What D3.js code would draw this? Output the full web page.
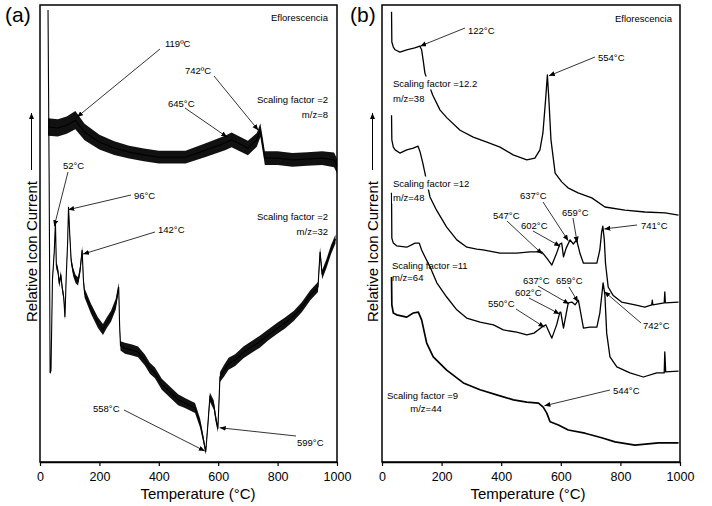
<!DOCTYPE html>
<html>
<head>
<meta charset="utf-8">
<script src="https://cdn.jsdelivr.net/npm/d3@7.9.0/dist/d3.min.js"></script>
<style>
  body { margin: 0; background: #fff; }
  svg text { font-family: "Liberation Sans", Arial, sans-serif; fill: #000; }
</style>
</head>
<body>
<svg id="chart" width="712" height="506"></svg>
<script>
// ---- data (temperature in °C, relative ion current in arbitrary units 0-100) ----
const tickTemps = [0, 200, 400, 600, 800, 1000];

// panel (a), m/z = 8 (noisy, band = noise half width)
const tempA8  = [27, 60, 90, 119, 150, 200, 250, 300, 350, 400, 490, 560, 623, 645, 700, 730, 742, 750, 757, 800, 850, 900, 950, 990, 1000];
const ionA8   = [73.3, 73.1, 73.7, 74.8, 72.2, 70.0, 68.7, 67.8, 67.2, 66.7, 66.7, 68.3, 69.8, 70.5, 68.7, 70.5, 72.6, 69.4, 66.5, 66.5, 66.1, 66.3, 66.5, 66.1, 64.8];
const noiseA8 = [1.9, 1.9, 1.9, 2.0, 1.8, 1.6, 1.5, 1.4, 1.4, 1.4, 1.4, 1.5, 1.6, 1.6, 1.6, 1.5, 1.5, 1.5, 1.5, 1.5, 1.5, 1.5, 1.5, 1.6, 1.6];

// panel (a), m/z = 32
const tempA32 = [27, 31, 34, 37, 42, 48, 52, 55, 60, 65, 70, 75, 80, 84, 88, 93, 96, 100, 105, 112, 120, 128, 135, 142, 146, 150,
                 172, 195, 212, 225, 239, 255, 265, 268, 271, 286, 310, 330, 353, 370, 387, 410, 441, 465, 488, 522, 539, 550, 558,
                 565, 572, 585, 592, 599, 606, 620, 635, 657, 685, 713, 740, 768, 800, 825, 855, 882, 910, 936, 943, 950, 965, 980, 995];
const ionA32  = [98.9, 60, 19.5, 20.0, 40.0, 46.0, 52.5, 43.0, 42.0, 39.0, 41.0, 38.0, 36.0, 31.7, 40.0, 48.0, 55.8, 50.0, 44.0, 41.5, 40.0, 39.5, 42.0, 46.4, 40.0, 37.0,
                 33.5, 30.5, 29.0, 30.5, 31.9, 34.5, 38.3, 30.0, 25.4, 24.9, 24.5, 24.1, 22.3, 20.5, 19.5, 17.0, 15.1, 13.6, 12.9, 11.8, 8.5, 5.0, 2.2,
                 8.0, 14.2, 12.5, 9.5, 7.3, 18.6, 20.0, 21.5, 22.3, 24.0, 25.2, 26.3, 27.8, 29.3, 30.4, 32.0, 33.9, 36.5, 38.3, 46.0, 41.0, 43.5, 46.5, 48.8];
const noiseA32 = [0.3, 0.3, 0.3, 0.4, 0.5, 0.5, 0.5, 0.8, 0.8, 0.8, 0.8, 0.8, 0.8, 0.6, 0.6, 0.6, 0.6, 0.8, 0.8, 0.9, 0.9, 0.9, 0.9, 0.8, 0.9, 1.0,
                  1.1, 1.2, 1.2, 1.2, 1.2, 1.2, 1.0, 0.8, 1.0, 1.2, 1.2, 1.2, 1.2, 1.2, 1.2, 1.2, 1.2, 1.2, 1.1, 1.1, 1.0, 0.8, 0.6,
                  0.8, 1.0, 1.0, 0.9, 0.8, 1.1, 1.3, 1.3, 1.3, 1.3, 1.3, 1.3, 1.2, 1.2, 1.2, 1.1, 1.1, 1.1, 1.1, 1.0, 1.0, 1.0, 1.0, 1.0];

// panel (b), m/z = 38
const tempB38 = [32, 33, 38, 44, 60, 83, 110, 127, 133, 138, 144, 170, 195, 218, 262, 306, 352, 396, 440, 486, 513, 530, 540, 549, 555, 560,
                 567, 581, 603, 624, 658, 704, 748, 815, 882, 950, 995];
const ionB38  = [98.5, 91.9, 90.8, 90.2, 89.7, 90.2, 90.6, 91.0, 90.2, 88.0, 85.1, 80.3, 77.0, 75.3, 72.6, 71.1, 70.0, 68.9, 67.2, 66.1, 66.5, 68.3, 72.0, 79.3, 84.7, 79.3,
                 70.5, 63.2, 61.3, 60.0, 58.9, 57.8, 55.8, 55.1, 54.7, 54.5, 54.0];

// panel (b), m/z = 48
const tempB48 = [32, 33, 38, 44, 60, 83, 105, 121, 128, 137, 161, 183, 217, 251, 285, 318, 339, 396, 452, 497, 536, 553, 570, 586, 597, 603,
                 609, 618, 631, 642, 653, 665, 676, 698, 721, 731, 737, 741, 746, 750, 759, 775, 804, 849, 882, 905, 907, 909, 947, 949, 951, 995];
const ionB48  = [75.9, 70.5, 68.9, 68.3, 67.6, 68.3, 68.7, 69.1, 67.8, 65.4, 58.0, 55.1, 51.4, 48.6, 47.0, 46.6, 46.4, 45.7, 45.7, 46.0, 46.0, 44.6, 43.1, 45.7, 47.7, 47.9,
                 44.9, 46.8, 48.6, 47.7, 48.6, 45.5, 43.5, 43.5, 43.5, 46.4, 50.3, 51.6, 48.6, 43.5, 38.3, 36.5, 35.0, 34.4, 33.9, 34.4, 35.4, 34.4, 34.8, 37.2, 34.8, 35.0];

// panel (b), m/z = 64
const tempB64 = [32, 33, 38, 49, 83, 111, 125, 133, 144, 161, 184, 217, 251, 284, 329, 374, 407, 452, 486, 510, 536, 550, 570, 586, 597, 600,
                 609, 625, 637, 648, 659, 676, 698, 721, 731, 742, 748, 754, 765, 788, 832, 877, 922, 947, 949, 952, 995];
const ionB64  = [58.9, 49.0, 47.9, 47.3, 47.0, 47.9, 47.9, 46.4, 44.9, 42.7, 39.2, 36.1, 33.3, 31.5, 30.6, 30.0, 28.9, 28.4, 27.8, 28.2, 29.5, 30.0, 27.1, 30.0, 32.8, 32.8,
                 29.3, 34.8, 35.0, 34.4, 35.4, 29.3, 29.5, 29.5, 32.6, 39.2, 36.5, 28.2, 23.0, 20.8, 19.5, 18.6, 19.5, 19.5, 24.1, 19.7, 19.9];

// panel (b), m/z = 44
const tempB44 = [32, 33, 38, 49, 83, 105, 122, 133, 150, 172, 217, 273, 329, 385, 441, 486, 525, 541, 553, 564, 592, 625, 681, 737, 782, 849, 928, 995];
const ionB44  = [40.5, 34.4, 32.6, 32.2, 31.7, 32.6, 32.8, 31.1, 26.0, 23.0, 20.1, 17.3, 15.8, 14.7, 13.6, 13.1, 12.9, 12.0, 10.7, 8.8, 8.1, 7.0, 6.3, 5.3, 4.4, 3.7, 4.2, 4.2];

// peak annotations: text, label anchor (px), line start (px), tip [°C, ion]
const notesA = [
  { t: '119ºC', lx: 165, ly: 46.5, sx: 160, sy: 49, tip: [125, 75.5] },
  { t: '742ºC', lx: 185, ly: 73.5, sx: 214, sy: 76, tip: [735, 72.6] },
  { t: '645°C', lx: 168, ly: 106.5, sx: 185, sy: 108, tip: [630, 71.1] },
  { t: '52°C', lx: 63, ly: 168.5, sx: 68, sy: 172, tip: [48, 51.6] },
  { t: '96°C', lx: 134, ly: 198.5, sx: 131, sy: 195, tip: [95, 55.2] },
  { t: '142°C', lx: 158, ly: 232.5, sx: 155, sy: 232, tip: [145, 45.5] },
  { t: '558°C', lx: 93, ly: 411.5, sx: 124, sy: 410, tip: [555, 2.4] },
  { t: '599°C', lx: 297, ly: 445.5, sx: 296, sy: 436, tip: [605, 7.5] }
];
const notesB = [
  { t: '122°C', lx: 468, ly: 33.5, sx: 465, sy: 28, tip: [128, 91.0] },
  { t: '554°C', lx: 598, ly: 60.5, sx: 595, sy: 57, tip: [560, 84.5] },
  { t: '637°C', lx: 520, ly: 198.5, sx: 543, sy: 202, tip: [625, 48.4] },
  { t: '659°C', lx: 562, ly: 215.5, sx: 573, sy: 218, tip: [655, 48.0] },
  { t: '547°C', lx: 493, ly: 218.5, sx: 507, sy: 221, tip: [538, 45.5] },
  { t: '602°C', lx: 521, ly: 228.5, sx: 533, sy: 231, tip: [598, 47.2] },
  { t: '741°C', lx: 641, ly: 228.5, sx: 637, sy: 225, tip: [746, 51.0] },
  { t: '637°C', lx: 523, ly: 283.5, sx: 538, sy: 286, tip: [628, 34.6] },
  { t: '659°C', lx: 556, ly: 283.5, sx: 569, sy: 287, tip: [658, 35.0] },
  { t: '602°C', lx: 515, ly: 295.5, sx: 529, sy: 298, tip: [596, 32.4] },
  { t: '550°C', lx: 488, ly: 306.5, sx: 516, sy: 309, tip: [545, 29.5] },
  { t: '742°C', lx: 643, ly: 328.5, sx: 641, sy: 323, tip: [746, 37.3] },
  { t: '544°C', lx: 613, ly: 393.5, sx: 610, sy: 390, tip: [545, 12.3] }
];

// ---- drawing ----
const svg = d3.select('#chart');
const y = d3.scaleLinear().domain([0, 100]).range([462, 5]);
const xA = d3.scaleLinear().domain([0, 1000]).range([40, 337]);
const xB = d3.scaleLinear().domain([0, 1000]).range([382, 680]);

svg.append('defs').append('marker')
    .attr('id', 'arr')
    .attr('markerUnits', 'userSpaceOnUse')
    .attr('markerWidth', 7).attr('markerHeight', 6)
    .attr('refX', 6).attr('refY', 2.5)
    .attr('orient', 'auto')
  .append('path')
    .attr('d', 'M0,0 L6,2.5 L0,5 Z')
    .attr('fill', '#000');

const zip = (t, v, n) => t.map((d, i) => ({ t: d, v: v[i], n: n ? n[i] : 0 }));

function frame(x, title) {
  const [x0, x1] = x.range();
  svg.append('rect')
    .attr('x', x0).attr('y', 5)
    .attr('width', x1 - x0).attr('height', 457)
    .attr('fill', 'none').attr('stroke', '#000').attr('stroke-width', 1.5);

  svg.append('g')
    .attr('transform', 'translate(0,462)')
    .call(d3.axisBottom(x).tickValues(tickTemps).tickFormat(d3.format('d'))
      .tickSize(4).tickPadding(6.5).tickSizeOuter(0))
    .call(g => g.select('.domain').attr('stroke-width', 1.5))
    .call(g => g.selectAll('.tick line').attr('stroke-width', 1.2))
    .call(g => g.selectAll('text').attr('font-size', 12.5).attr('font-family', null));

  svg.append('text')
    .attr('x', title).attr('y', 499)
    .attr('text-anchor', 'middle')
    .attr('font-size', 15)
    .text('Temperature (°C)');
}

function yLabel(bx) {
  svg.append('text')
    .attr('transform', `translate(${bx},322) rotate(-90)`)
    .attr('font-size', 15)
    .text('Relative Icon Current');
  svg.append('line')
    .attr('x1', bx - 5).attr('x2', bx - 5)
    .attr('y1', 170).attr('y2', 113)
    .attr('stroke', '#000').attr('stroke-width', 1)
    .attr('marker-end', 'url(#arr)');
}

function noisy(x, data) {
  svg.append('path')
    .datum(data)
    .attr('d', d3.area().x(d => x(d.t)).y0(d => y(d.v - d.n)).y1(d => y(d.v + d.n)))
    .attr('fill', '#111');
  svg.append('path')
    .datum(data)
    .attr('d', d3.line().x(d => x(d.t)).y(d => y(d.v)))
    .attr('fill', 'none').attr('stroke', '#000').attr('stroke-width', 1.1);
}

function smooth(x, data, w) {
  svg.append('path')
    .datum(data)
    .attr('d', d3.line().x(d => x(d.t)).y(d => y(d.v)))
    .attr('fill', 'none').attr('stroke', '#000').attr('stroke-width', w)
    .attr('stroke-linejoin', 'round');
}

function label(x, yy, t, anchor, knock) {
  const el = svg.append('text')
    .attr('x', x).attr('y', yy)
    .attr('text-anchor', anchor || 'start')
    .attr('font-size', 9.5)
    .text(t);
  if (knock) {
    const b = el.node().getBBox();
    svg.insert('rect', () => el.node())
      .attr('x', b.x - 1).attr('y', b.y - 1)
      .attr('width', b.width + 2).attr('height', b.height + 2)
      .attr('fill', '#fff');
  }
}

function notes(x, list) {
  list.forEach(n => {
    svg.append('line')
      .attr('x1', n.sx).attr('y1', n.sy)
      .attr('x2', x(n.tip[0])).attr('y2', y(n.tip[1]))
      .attr('stroke', '#000').attr('stroke-width', 0.8)
      .attr('marker-end', 'url(#arr)');
    label(n.lx, n.ly, n.t);
  });
}

// panel (a)
noisy(xA, zip(tempA8, ionA8, noiseA8));
noisy(xA, zip(tempA32, ionA32, noiseA32));
frame(xA, 198);
yLabel(36.5);
label(328, 20.5, 'Eflorescencia', 'end');
label(328, 102.5, 'Scaling factor =2', 'end');
label(328, 117.5, 'm/z=8', 'end');
label(328, 219.5, 'Scaling factor =2', 'end');
label(328, 234.5, 'm/z=32', 'end');
notes(xA, notesA);
svg.append('text').attr('x', 5).attr('y', 22).attr('font-size', 21).text('(a)');

// panel (b)
smooth(xB, zip(tempB38, ionB38), 1.3);
smooth(xB, zip(tempB48, ionB48), 1.3);
smooth(xB, zip(tempB64, ionB64), 1.3);
smooth(xB, zip(tempB44, ionB44), 1.7);
frame(xB, 528);
yLabel(377.5);
label(672, 21.5, 'Eflorescencia', 'end');
label(393, 86.5, 'Scaling factor =12.2', 'start', true);
label(393, 101.5, 'm/z=38', 'start', true);
label(393, 186.5, 'Scaling factor =12', 'start', true);
label(393, 200.5, 'm/z=48', 'start', true);
label(392, 268.5, 'Scaling factor =11');
label(392, 280.5, 'm/z=64');
label(387, 398.5, 'Scaling factor =9');
label(426, 411.5, 'm/z=44', 'middle');
notes(xB, notesB);
svg.append('text').attr('x', 350).attr('y', 22).attr('font-size', 21).text('(b)');
</script>
</body>
</html>
